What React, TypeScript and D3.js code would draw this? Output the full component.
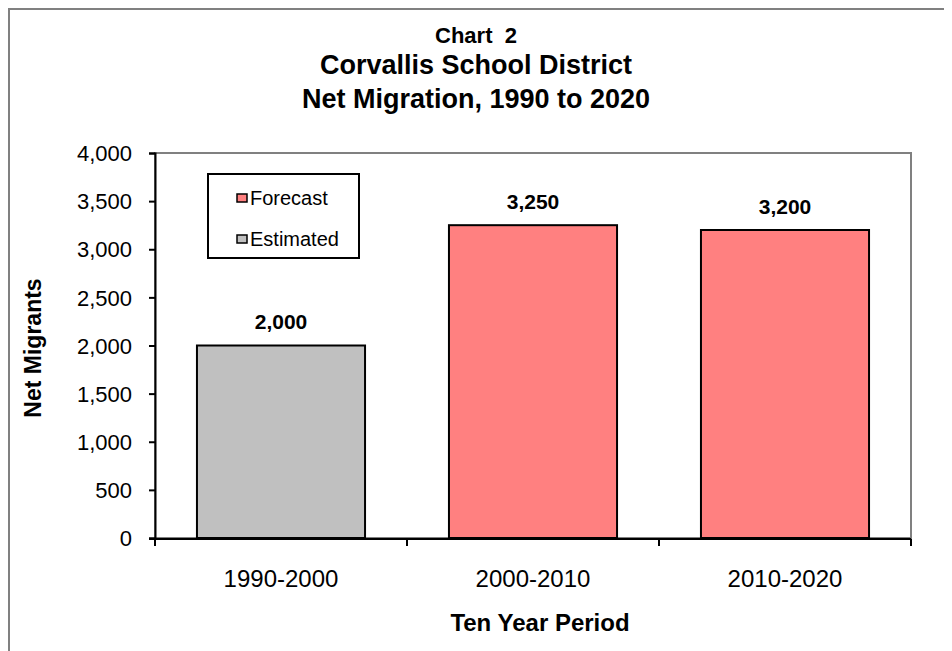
import { useEffect, useRef } from "react"
import * as d3 from "d3"

// Chart values
const periods = ["1990-2000", "2000-2010", "2010-2020"]
const migrants = [2000, 3250, 3200]
const seriesOf = ["Estimated", "Forecast", "Forecast"]
const yTicks = [0, 500, 1000, 1500, 2000, 2500, 3000, 3500, 4000]
const legendItems = ["Forecast", "Estimated"]
const titleLines = ["Chart\u00a0\u00a02", "Corvallis School District", "Net Migration, 1990 to 2020"]

const colors: Record<string, string> = {
  Forecast: "#ff8080",
  Estimated: "#c0c0c0",
}

export default function App() {
  const svgRef = useRef<SVGSVGElement>(null)

  useEffect(() => {
    if (!svgRef.current) return
    const svg = d3.select(svgRef.current)
    svg.selectAll("*").remove()

    const width = 952
    const height = 651
    const font = "Arial, 'Liberation Sans', sans-serif"
    // svg sits at page offset (8,8) because of body margin
    const off = -8
    const left = 155 + off
    const right = 911 + off
    const top = 153 + off
    const bottom = 538 + off

    const root = svg.attr("width", width).attr("height", height)

    // outer frame
    root
      .append("rect")
      .attr("x", 1)
      .attr("y", 1)
      .attr("width", width + 20)
      .attr("height", height + 20)
      .attr("fill", "white")
      .attr("stroke", "#808080")
      .attr("stroke-width", 2)

    // title
    const titleY = [35, 65, 99]
    const titleSize = [22, 27, 27]
    titleLines.forEach((t, i) => {
      root
        .append("text")
        .attr("x", 476 + off)
        .attr("y", titleY[i] + off)
        .attr("text-anchor", "middle")
        .attr("dominant-baseline", "central")
        .style("font-family", font)
        .style("font-weight", "bold")
        .style("font-size", `${titleSize[i]}px`)
        .text(t)
    })

    const x = d3.scaleBand<string>().domain(periods).range([left, right]).paddingInner(0.333).paddingOuter(0.1665)
    const y = d3.scaleLinear().domain([0, 4000]).range([bottom, top])

    // plot border
    root
      .append("rect")
      .attr("x", left)
      .attr("y", top)
      .attr("width", right - left)
      .attr("height", bottom - top)
      .attr("fill", "white")
      .attr("stroke", "#808080")
      .attr("stroke-width", 2)

    // bars
    root
      .selectAll(".bar")
      .data(periods)
      .enter()
      .append("rect")
      .attr("class", "bar")
      .attr("x", (d) => x(d)!)
      .attr("y", (d, i) => y(migrants[i]))
      .attr("width", x.bandwidth())
      .attr("height", (d, i) => bottom - y(migrants[i]))
      .attr("fill", (d, i) => colors[seriesOf[i]])
      .attr("stroke", "black")
      .attr("stroke-width", 2)

    // value labels
    root
      .selectAll(".val")
      .data(periods)
      .enter()
      .append("text")
      .attr("class", "val")
      .attr("x", (d) => x(d)! + x.bandwidth() / 2)
      .attr("y", (d, i) => y(migrants[i]) - 24)
      .attr("text-anchor", "middle")
      .attr("dominant-baseline", "central")
      .style("font-family", font)
      .style("font-weight", "bold")
      .style("font-size", "21px")
      .text((d, i) => d3.format(",")(migrants[i]))

    // y axis
    const yAxis = root
      .append("g")
      .attr("transform", `translate(${left},0)`)
      .call(d3.axisLeft(y).tickValues(yTicks).tickSize(6).tickPadding(17).tickFormat(d3.format(",") as any))
    yAxis.select(".domain").attr("stroke", "black").attr("stroke-width", 2)
    yAxis.selectAll(".tick line").attr("stroke", "black").attr("stroke-width", 2)
    yAxis
      .selectAll(".tick text")
      .attr("fill", "black")
      .attr("dy", "0.35em")
      .style("font-family", font)
      .style("font-size", "22px")

    // x axis
    const xAxis = root
      .append("g")
      .attr("transform", `translate(0,${bottom + 1})`)
    xAxis
      .append("line")
      .attr("x1", left - 6)
      .attr("x2", right)
      .attr("y1", 0)
      .attr("y2", 0)
      .attr("stroke", "black")
      .attr("stroke-width", 2)
    const boundaries = [left, ...periods.map((p) => x(p)! + x.bandwidth() + (x.step() - x.bandwidth()) / 2)]
    xAxis
      .selectAll(".xt")
      .data(boundaries)
      .enter()
      .append("line")
      .attr("x1", (d) => d)
      .attr("x2", (d) => d)
      .attr("y1", 0)
      .attr("y2", 7)
      .attr("stroke", "black")
      .attr("stroke-width", 2)
    xAxis
      .selectAll(".xl")
      .data(periods)
      .enter()
      .append("text")
      .attr("x", (d) => x(d)! + x.bandwidth() / 2)
      .attr("y", 39)
      .attr("text-anchor", "middle")
      .attr("dominant-baseline", "central")
      .style("font-family", font)
      .style("font-size", "24px")
      .text((d) => d)

    // axis titles
    root
      .append("text")
      .attr("x", 540 + off)
      .attr("y", 622 + off)
      .attr("text-anchor", "middle")
      .attr("dominant-baseline", "central")
      .style("font-family", font)
      .style("font-weight", "bold")
      .style("font-size", "24px")
      .text("Ten Year Period")

    root
      .append("text")
      .attr("transform", `translate(${33 + off},${348 + off}) rotate(-90)`)
      .attr("text-anchor", "middle")
      .attr("dominant-baseline", "central")
      .style("font-family", font)
      .style("font-weight", "bold")
      .style("font-size", "23px")
      .text("Net Migrants")

    // legend
    const lg = root.append("g").attr("transform", `translate(${208 + off},${174 + off})`)
    lg.append("rect")
      .attr("width", 151)
      .attr("height", 84)
      .attr("fill", "white")
      .attr("stroke", "black")
      .attr("stroke-width", 2)
    const items = lg
      .selectAll(".li")
      .data(legendItems)
      .enter()
      .append("g")
      .attr("transform", (d, i) => `translate(0,${24 + i * 41})`)
    items
      .append("rect")
      .attr("x", 29)
      .attr("y", -4)
      .attr("width", 10)
      .attr("height", 8)
      .attr("fill", (d) => colors[d])
      .attr("stroke", "black")
      .attr("stroke-width", 1.5)
    items
      .append("text")
      .attr("x", 42)
      .attr("y", 0)
      .attr("dominant-baseline", "central")
      .style("font-family", font)
      .style("font-size", "20px")
      .text((d) => d)
  }, [])

  return <svg ref={svgRef} style={{ display: "block" }}></svg>
}
